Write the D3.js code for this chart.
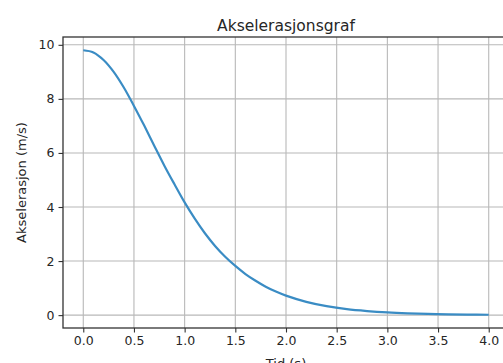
<!DOCTYPE html>
<html>
<head>
<meta charset="utf-8">
<script src="https://cdn.jsdelivr.net/npm/d3@7"></script>
<style>
  body { margin: 0; background: #fff; }
  svg { display: block; }
  text { font-family: "DejaVu Sans", sans-serif; fill: #262626; }
</style>
</head>
<body>
<script>
// values
var tid = [0.0, 0.1, 0.2, 0.3, 0.4, 0.5, 0.6, 0.7, 0.8, 0.9,
           1.0, 1.1, 1.2, 1.3, 1.4, 1.5, 1.6, 1.7, 1.8, 1.9,
           2.0, 2.2, 2.4, 2.6, 2.8, 3.0, 3.2, 3.4, 3.6, 3.8, 4.0];
var akselerasjon = [9.8, 9.72, 9.44, 9.0, 8.42, 7.74, 7.02, 6.27, 5.53, 4.84,
                    4.17, 3.57, 3.03, 2.56, 2.16, 1.82, 1.52, 1.27, 1.05, 0.87,
                    0.72, 0.49, 0.33, 0.22, 0.15, 0.1, 0.067, 0.045, 0.03, 0.02, 0.013];
var xTicks = [0, 0.5, 1, 1.5, 2, 2.5, 3, 3.5, 4];
var yTicks = [0, 2, 4, 6, 8, 10];

var width = 503, height = 363;
var mLeft = 63, mRight = 509, mTop = 37, mBottom = 328;

var svg = d3.select("body").append("svg")
    .attr("width", width)
    .attr("height", height);

var data = tid.map(function(t, i) { return {t: t, a: akselerasjon[i]}; });

// matplotlib style 5% margins
var xExt = d3.extent(tid), yExt = d3.extent(akselerasjon);
var xPad = (xExt[1] - xExt[0]) * 0.05, yPad = (yExt[1] - yExt[0]) * 0.05;

var x = d3.scaleLinear()
    .domain([xExt[0] - xPad, xExt[1] + xPad])
    .range([mLeft, mRight]);
var y = d3.scaleLinear()
    .domain([yExt[0] - yPad, yExt[1] + yPad])
    .range([mBottom, mTop]);

// grid
var grid = svg.append("g").attr("stroke", "#b8b8b8").attr("stroke-width", 1.1);
grid.selectAll(".vx").data(xTicks).enter().append("line")
    .attr("x1", function(d) { return x(d); })
    .attr("x2", function(d) { return x(d); })
    .attr("y1", mTop).attr("y2", mBottom);
grid.selectAll(".hy").data(yTicks).enter().append("line")
    .attr("x1", mLeft).attr("x2", mRight)
    .attr("y1", function(d) { return y(d); })
    .attr("y2", function(d) { return y(d); });

// curve
var line = d3.line()
    .x(function(d) { return x(d.t); })
    .y(function(d) { return y(d.a); })
    .curve(d3.curveCatmullRom.alpha(0.5));

svg.append("path")
    .datum(data)
    .attr("fill", "none")
    .attr("stroke", "#3a8cc4")
    .attr("stroke-width", 2.2)
    .attr("d", line);

// axes
var xAxis = d3.axisBottom(x).tickValues(xTicks).tickSize(4.5).tickPadding(4)
    .tickFormat(d3.format(".1f"));
var yAxis = d3.axisLeft(y).tickValues(yTicks).tickSize(4.5).tickPadding(4)
    .tickFormat(d3.format("d"));

var gx = svg.append("g").attr("transform", "translate(0," + mBottom + ")").call(xAxis);
var gy = svg.append("g").attr("transform", "translate(" + mLeft + ",0)").call(yAxis);

[gx, gy].forEach(function(g) {
  g.select(".domain").remove();
  g.selectAll(".tick line").attr("stroke", "#333").attr("stroke-width", 1.1);
  g.selectAll(".tick text")
      .style("font-family", "DejaVu Sans, sans-serif")
      .style("font-size", "12.5px")
      .attr("fill", "#2a2a2a");
});

// frame
svg.append("rect")
    .attr("x", mLeft).attr("y", mTop)
    .attr("width", mRight - mLeft).attr("height", mBottom - mTop)
    .attr("fill", "none")
    .attr("stroke", "#333")
    .attr("stroke-width", 1.3);

// titles
svg.append("text")
    .attr("x", (mLeft + mRight) / 2).attr("y", 31)
    .attr("text-anchor", "middle")
    .style("font-size", "15.5px")
    .text("Akselerasjonsgraf");

svg.append("text")
    .attr("x", (mLeft + mRight) / 2).attr("y", 368)
    .attr("text-anchor", "middle")
    .style("font-size", "13px")
    .text("Tid (s)");

svg.append("text")
    .attr("transform", "translate(26," + (mTop + mBottom) / 2 + ")rotate(-90)")
    .attr("text-anchor", "middle")
    .style("font-size", "13px")
    .text("Akselerasjon (m/s)");
</script>
</body>
</html>
